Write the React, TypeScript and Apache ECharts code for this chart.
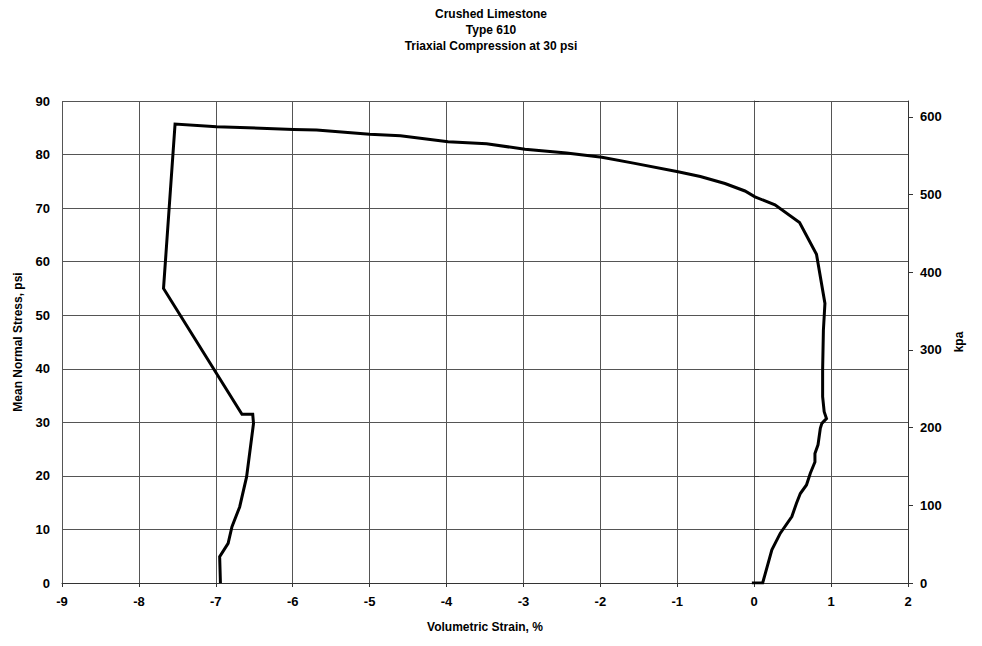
import React, { useEffect, useRef } from "react";
import * as echarts from "echarts";

const titleLines = ["Crushed Limestone", "Type 610", "Triaxial Compression at 30 psi"];
const xTicks = { min: -9, max: 2, step: 1 };
const psiTicks = { min: 0, max: 90, step: 10 };
const kpaPerPsi = 6.894757;

// Volumetric strain (%) and mean normal stress (psi), traced in order along the curve
const strain = [
  -0.03, 0.11, 0.23, 0.34, 0.49, 0.55, 0.6, 0.68, 0.73, 0.79, 0.79, 0.83, 0.86, 0.88, 0.94, 0.91,
  0.89, 0.89, 0.9, 0.92, 0.81, 0.59, 0.27, 0.01, -0.12, -0.38, -0.7, -0.99, -1.57, -1.98, -2.44,
  -2.98, -3.48, -3.98, -4.6, -5.0, -5.69, -5.99, -6.99, -7.53, -7.68, -6.66, -6.52, -6.51, -6.6,
  -6.69, -6.79, -6.84, -6.95, -6.94,
];
const stress = [
  0, 0, 6.2, 9.3, 12.4, 14.9, 16.7, 18.3, 20.5, 22.6, 24.2, 25.8, 28.9, 29.8, 30.7, 32.0,
  34.8, 39.8, 47.2, 52.2, 61.4, 67.3, 70.6, 72.1, 73.2, 74.6, 75.9, 76.8, 78.4, 79.5, 80.3,
  81.0, 82.0, 82.4, 83.5, 83.8, 84.6, 84.7, 85.2, 85.7, 55.0, 31.5, 31.5, 29.8, 19.8,
  14.2, 10.5, 7.4, 4.9, 0,
];

const font = "'Liberation Sans', Arial, sans-serif";

export default function App() {
  const ref = useRef<HTMLDivElement>(null);
  useEffect(() => {
    if (!ref.current) return;
    const chart = echarts.init(ref.current, null, { renderer: "svg" });
    const data = strain.map((x, i) => [x, stress[i]]);
    const labelStyle = { color: "#000", fontWeight: "bold" as const, fontSize: 13, fontFamily: font };
    chart.setOption({
      animation: false,
      backgroundColor: "#fff",
      title: {
        text: titleLines.join("\n"),
        left: "center",
        top: 1,
        textStyle: { color: "#000", fontSize: 12, fontWeight: "bold", fontFamily: font, lineHeight: 16 },
      },
      grid: { left: 62, right: 74, top: 101, bottom: 63, containLabel: false },
      xAxis: {
        type: "value",
        min: xTicks.min,
        max: xTicks.max,
        interval: xTicks.step,
        name: "Volumetric Strain, %",
        nameLocation: "middle",
        nameGap: 38,
        nameTextStyle: { ...labelStyle, fontSize: 12 },
        axisLine: { show: true, onZero: false, lineStyle: { color: "#333", width: 1 } },
        axisTick: { show: true, length: 4, lineStyle: { color: "#333" } },
        axisLabel: { ...labelStyle, margin: 12 },
        splitLine: { show: true, lineStyle: { color: "#555", width: 1 } },
      },
      yAxis: [
        {
          type: "value",
          min: psiTicks.min,
          max: psiTicks.max,
          interval: psiTicks.step,
          name: "Mean Normal Stress, psi",
          nameLocation: "middle",
          nameGap: 38,
          nameTextStyle: { ...labelStyle, fontSize: 12 },
          axisLine: { show: true, lineStyle: { color: "#555", width: 1 } },
          axisTick: { show: true, inside: true, length: 5, lineStyle: { color: "#333" } },
          axisLabel: { ...labelStyle, margin: 12 },
          splitLine: { show: true, lineStyle: { color: "#555", width: 1 } },
        },
        {
          type: "value",
          position: "right",
          min: 0,
          max: psiTicks.max * kpaPerPsi,
          interval: 100,
          name: "kpa",
          nameLocation: "middle",
          nameGap: 44,
          nameRotate: 90,
          nameTextStyle: { ...labelStyle, fontSize: 12 },
          axisLine: { show: true, lineStyle: { color: "#333", width: 1 } },
          axisTick: { show: true, length: 5, lineStyle: { color: "#333" } },
          axisLabel: {
            ...labelStyle,
            margin: 12,
            showMaxLabel: false,
            formatter: (v: number) => (Math.abs(v % 100) < 1e-6 ? String(v) : ""),
          },
          splitLine: { show: false },
        },
      ],
      series: [
        {
          type: "line",
          data,
          yAxisIndex: 0,
          showSymbol: false,
          symbol: "none",
          lineStyle: { color: "#000", width: 3, join: "miter" },
        },
      ],
    });
    return () => chart.dispose();
  }, []);
  return (
    <div
      ref={ref}
      style={{ position: "fixed", left: 0, top: 0, width: 982, height: 646 }}
    />
  );
}
